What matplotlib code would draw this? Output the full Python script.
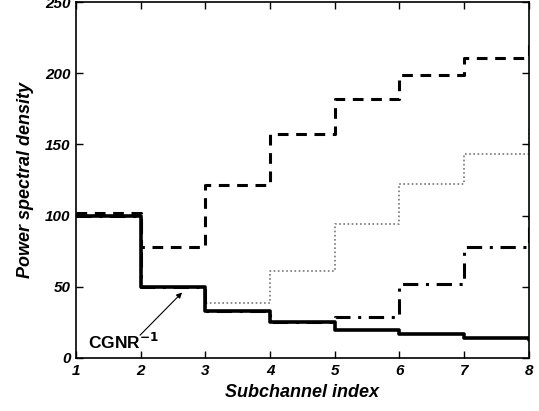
import numpy as np
import matplotlib
matplotlib.use("Agg")
import matplotlib.pyplot as plt

plt.rcParams['font.family'] = ['Liberation Sans', 'DejaVu Sans']

# subchannel index (step edges), the last one lies past the axis limit
subchannels = [1, 2, 3, 4, 5, 6, 7, 8, 9]

cgnr_inv = [100, 50, 33, 25, 20, 17, 14, 12.5, 12.5]
dashed = [102, 78, 121.5, 157, 182, 199, 211, 221, 221]
dotted = [100, 50, 38.6, 61, 94, 122, 143, 162, 162]
dashdot = [100, 50, 33, 25.5, 29, 52, 78, 100, 100]

fig = plt.figure(figsize=(5.39, 4.11), dpi=100)
ax = fig.add_axes([0.141, 0.129, 0.840, 0.866])

ax.step(subchannels, dotted, where='post', color='#777777', lw=1.2, ls=(0, (1, 1.5)))
ax.step(subchannels, dashdot, where='post', color='black', lw=2.2, ls=(0, (5, 2.5, 1, 2.5)))
ax.step(subchannels, dashed, where='post', color='black', lw=2.2, ls=(0, (3.5, 2.5)))
ax.step(subchannels, cgnr_inv, where='post', color='black', lw=2.6)

# label with an arrow pointing at the CGNR^-1 curve
ax.annotate('', xy=(2.64, 46), xytext=(1.99, 16),
            arrowprops=dict(arrowstyle='-|>', color='black', lw=0.8,
                            mutation_scale=8, shrinkA=0, shrinkB=0))
ax.text(1.73, 11, 'CGNR$^{\\mathbf{-1}}$', ha='center', va='center',
        fontsize=12.5, fontweight='bold')

ax.set_xlim(1, 8)
ax.set_ylim(0, 250)
ax.set_xticks(range(1, 9))
ax.set_yticks(range(0, 251, 50))
ax.tick_params(direction='in', top=True, right=True, length=5, width=1, pad=4)
for lbl in ax.get_xticklabels() + ax.get_yticklabels():
    lbl.set_fontweight('bold')
    lbl.set_fontstyle('italic')
    lbl.set_fontsize(11)
for s in ax.spines.values():
    s.set_linewidth(1.2)

ax.set_xlabel('Subchannel index', fontsize=13, fontweight='bold', fontstyle='italic', labelpad=5)
ax.set_ylabel('Power spectral density', fontsize=13, fontweight='bold', fontstyle='italic', labelpad=8)

fig.savefig('out.png', dpi=100)
